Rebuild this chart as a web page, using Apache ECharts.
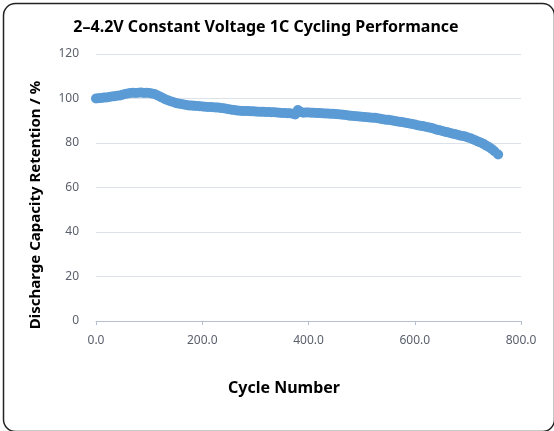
<!DOCTYPE html>
<html>
<head>
<meta charset="utf-8">
<script src="https://cdn.jsdelivr.net/npm/echarts@6/dist/echarts.min.js"></script>
<style>html,body{margin:0;padding:0;background:#fff;}#c{width:554px;height:431px;}</style>
</head>
<body>
<div id="c"></div>
<script>
var titleText = '2–4.2V Constant Voltage 1C Cycling Performance';
var xName = 'Cycle Number';
var yName = 'Discharge Capacity Retention / %';
var cycles = [0,5,10,15,20,25,30,35,40,45,50,55,60,65,70,75,80,85,90,95,100,105,110,115,120,125,130,135,140,145,150,155,160,165,170,175,180,185,190,195,200,205,210,215,220,225,230,235,240,245,250,255,260,265,270,275,280,285,290,295,300,305,310,315,320,325,330,335,340,345,350,355,360,365,370,375,380,385,390,395,400,405,410,415,420,425,430,435,440,445,450,455,460,465,470,475,480,485,490,495,500,505,510,515,520,525,530,535,540,545,550,555,560,565,570,575,580,585,590,595,600,605,610,615,620,625,630,635,640,645,650,655,660,665,670,675,680,685,690,695,700,705,710,715,720,725,730,735,740,745,750,757];
var retention = [100.0,100.1,100.2,100.4,100.5,100.7,100.9,101.0,101.2,101.4,101.7,102.0,102.3,102.5,102.6,102.5,102.6,102.7,102.5,102.6,102.5,102.3,102.0,101.5,100.9,100.3,99.7,99.2,98.8,98.4,98.0,97.7,97.5,97.3,97.1,96.9,96.8,96.7,96.6,96.5,96.4,96.3,96.2,96.2,96.1,96.0,95.9,95.7,95.6,95.4,95.2,95.0,94.8,94.6,94.5,94.4,94.4,94.4,94.3,94.3,94.2,94.1,94.1,94.0,93.9,93.9,93.8,93.8,93.7,93.6,93.5,93.5,93.4,93.4,93.2,92.8,94.8,94.0,93.6,93.7,93.7,93.6,93.6,93.5,93.5,93.4,93.3,93.3,93.2,93.1,93.0,92.9,92.8,92.7,92.6,92.4,92.2,92.1,92.0,91.9,91.8,91.7,91.6,91.5,91.4,91.3,91.1,90.9,90.7,90.5,90.4,90.2,90.0,89.8,89.6,89.4,89.2,89.0,88.8,88.5,88.3,88.0,87.8,87.6,87.3,87.1,86.8,86.5,86.1,85.8,85.5,85.2,84.9,84.6,84.3,84.0,83.7,83.4,83.2,82.9,82.5,82.1,81.6,81.1,80.6,80.1,79.5,78.8,78.1,77.3,76.3,74.8];

var chart = echarts.init(document.getElementById('c'), null, {renderer: 'canvas'});
var pts = cycles.map(function (c, i) { return [c, retention[i]]; });
var labelColor = '#595f6b';
chart.setOption({
  animation: false,
  backgroundColor: '#fff',
  title: {
    text: titleText, left: 261, top: 14, textAlign: 'center',
    textStyle: {fontFamily: 'Noto Sans', fontWeight: 'bold', fontSize: 16, color: '#000'}
  },
  grid: {left: 96, right: 33, top: 54, bottom: 110, containLabel: false},
  xAxis: {
    type: 'value', min: 0, max: 800, interval: 200,
    axisLine: {show: true, onZero: false, lineStyle: {color: '#b4c0d2', width: 1}},
    axisTick: {show: true, length: 4, lineStyle: {color: '#b4c0d2'}},
    splitLine: {show: false},
    axisLabel: {color: labelColor, fontFamily: 'Noto Sans', fontSize: 12, margin: 14,
      formatter: function (v) { return v.toFixed(1); }}
  },
  yAxis: {
    type: 'value', min: 0, max: 120, interval: 20,
    axisLine: {show: false}, axisTick: {show: false},
    splitLine: {show: true, lineStyle: {color: '#dde1e8', width: 1}},
    axisLabel: {color: labelColor, fontFamily: 'Noto Sans', fontSize: 12, margin: 17}
  },
  graphic: [
    {type: 'rect', left: 1, top: 1, shape: {width: 551, height: 428, r: 12},
      style: {fill: 'none', stroke: '#222', lineWidth: 1.5}, silent: true, z: 100},
    {type: 'text', x: 36, y: 205, rotation: Math.PI / 2, z: 100,
      style: {text: yName, fontFamily: 'Noto Sans', fontWeight: 'bold', fontSize: 15, fill: '#000',
        align: 'center', verticalAlign: 'middle'}},
    {type: 'text', x: 284, y: 388, z: 100,
      style: {text: xName, fontFamily: 'Noto Sans', fontWeight: 'bold', fontSize: 16, fill: '#000',
        align: 'center', verticalAlign: 'middle'}}
  ],
  series: [{
    type: 'scatter', data: pts, symbol: 'circle', symbolSize: 10,
    itemStyle: {color: '#5b9bd5', opacity: 1}
  }]
});
</script>
</body>
</html>
